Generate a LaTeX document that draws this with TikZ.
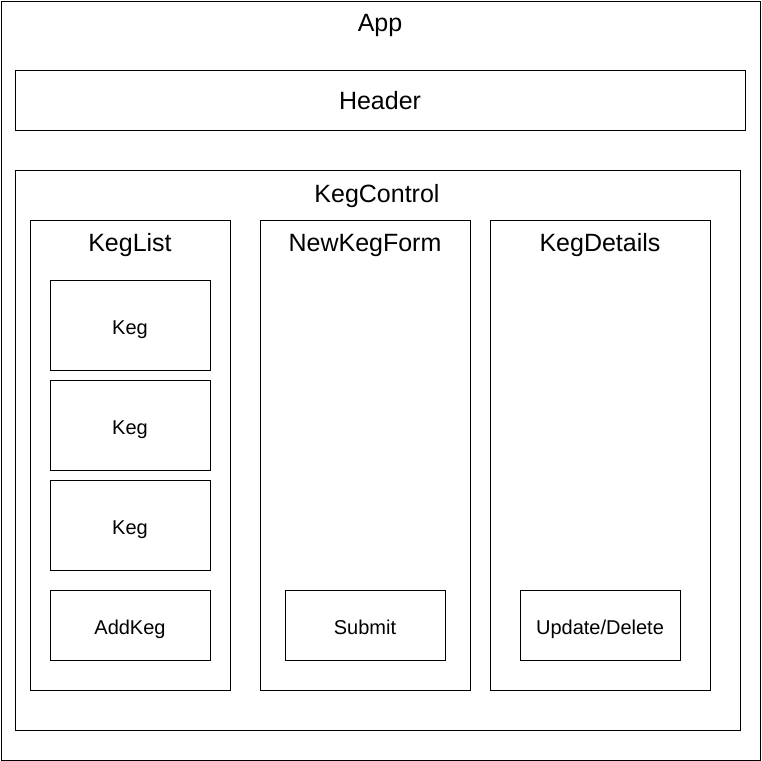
\documentclass[tikz,border=0pt]{standalone}
\usepackage{fontspec}
\setmainfont{Liberation Sans}
\usetikzlibrary{positioning}
\tikzstyle{box}=[draw,rectangle,inner sep=0pt,line width=1pt]
\tikzstyle{heading}=[font=\fontsize{25}{29}\selectfont,text height=18pt,text depth=0pt]
\tikzstyle{leaf}=[box,minimum width=160pt,font=\fontsize{20}{23}\selectfont,text height=18.5pt,text depth=0pt]

\begin{document}
\begin{tikzpicture}[x=1pt,y=-1pt]
    \useasboundingbox (0,0) rectangle (761,761);
    % Outer frame and header
    \node[box,minimum width=759pt,minimum height=759pt] (app) at (380.5,380.5) {};
    \node[heading] (appTitle) at (380,22) {App};
    \node[box,heading,minimum width=730pt,minimum height=60pt] (header) at (380,100) {Header};
    % The control with its three panels
    \node[box,minimum width=725pt,minimum height=560pt] (kegControl) at (377.5,450) {};
    \node[heading] (kegControlTitle) at (377,193) {KegControl};
    \foreach \pos/\w/\name in {{(130,455)/200/kegList},
            {(365,455)/210/newKegForm}, {(600,455)/220/kegDetails}}
        \node[box,minimum width=\w pt,minimum height=470pt] (\name) at \pos {};
    \foreach \name/\txt in {kegList/KegList, newKegForm/NewKegForm, kegDetails/KegDetails}
        \node[heading] (\name Title) at ([yshift=-23pt]\name.north) {\txt};
    % Inner boxes
    \foreach \pos/\name in {{(130,325)/keg1}, {(130,425)/keg2}, {(130,525)/keg3}}
        \node[leaf,minimum height=90pt] (\name) at \pos {Keg};
    \foreach \pos/\name/\txt in {{(130,625)/addKeg/AddKeg}, {(365,625)/submit/Submit},
            {(600,625)/updateDelete/{Update/Delete}}}
        \node[leaf,minimum height=70pt] (\name) at \pos {\txt};
\end{tikzpicture}
\end{document}
